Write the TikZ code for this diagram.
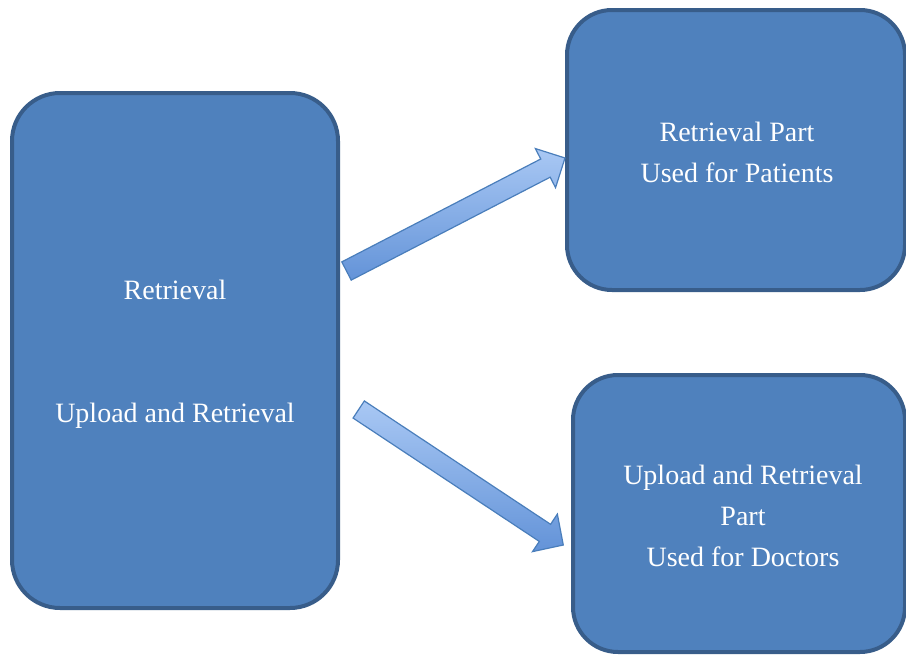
\documentclass[tikz,border=0pt]{standalone}
\usepackage{fontspec}
\setmainfont{Liberation Serif}
\definecolor{boxfill}{HTML}{4F81BD}
\definecolor{boxline}{HTML}{385D8A}
\definecolor{arrtop}{HTML}{A9C8F4}
\definecolor{arrbot}{HTML}{6393D8}
\definecolor{arrline}{HTML}{4A7EBB}
\begin{document}
\begin{tikzpicture}[x=1pt,y=-1pt,
  bigbox/.style={draw=boxline, fill=boxfill, line width=4pt, inner sep=0pt},
  boxtext/.style={text=white, align=center, inner sep=0pt, font=\fontsize{28}{41}\selectfont},
  blockarrow/.style={draw=arrline, line width=1.2pt, top color=arrtop, bottom color=arrbot}]
\useasboundingbox (0,0) rectangle (906,656);
\node[bigbox, rounded corners=48pt, minimum width=326pt, minimum height=515pt] (src) at (175,350.5) {};
\node[bigbox, rounded corners=45pt, minimum width=338pt, minimum height=280pt] (pat) at (736,150) {};
\node[bigbox, rounded corners=45pt, minimum width=332pt, minimum height=277pt] (doc) at (739,513.5) {};
\node[boxtext] (srctext) at ([yshift=-3.5pt]src.center) {Retrieval\\[82pt]Upload and Retrieval};
\node[boxtext] (pattext) at ([xshift=1pt,yshift=-2pt]pat.center) {Retrieval Part\\Used for Patients};
\node[boxtext] (doctext) at ([xshift=4pt,yshift=-2pt]doc.center) {Upload and Retrieval\\Part\\Used for Doctors};
\coordinate (t1) at (346.5,271);
\coordinate (t2) at (358.7,409.5);
\begin{scope}[shift={(t1)}, rotate=27.35]
  \path[blockarrow] (0,10.25) -- (224,10.25) -- (224,22) -- (246,0) -- (224,-22) -- (224,-10.25) -- (0,-10.25) -- cycle;
\end{scope}
\begin{scope}[shift={(t2)}, rotate=-33.52]
  \path[blockarrow] (0,10.25) -- (223.4,10.25) -- (223.4,22.5) -- (245.4,0) -- (223.4,-22.5) -- (223.4,-10.25) -- (0,-10.25) -- cycle;
\end{scope}
\end{tikzpicture}
\end{document}
